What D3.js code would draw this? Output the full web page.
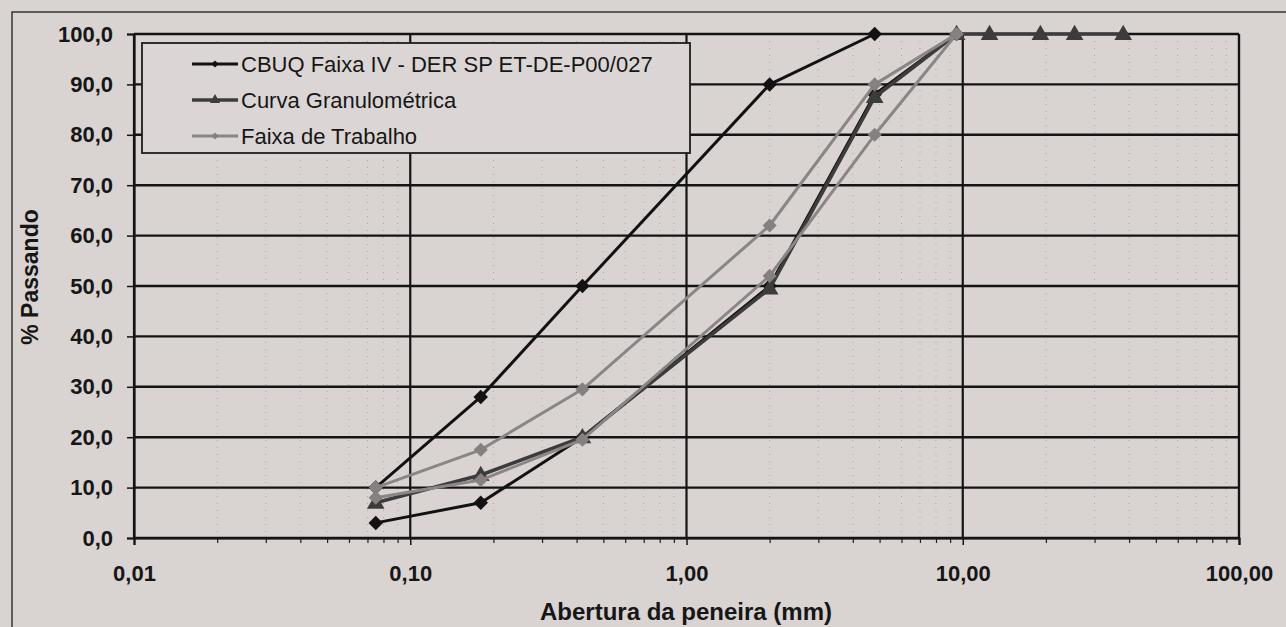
<!DOCTYPE html>
<html>
<head>
<meta charset="utf-8">
<script src="https://cdn.jsdelivr.net/npm/d3@7"></script>
<style>
  html, body { margin: 0; padding: 0; background: #d9d3d2; }
  svg { display: block; }
  text { font-family: "Liberation Sans", Arial, sans-serif; fill: #161616; }
</style>
</head>
<body>
<svg id="chart" width="1286" height="627"></svg>
<script>
// Sieve openings (mm) used in the granulometric analysis
const sieves = [0.075, 0.18, 0.42, 2.0, 4.8, 9.5, 12.5, 19.1, 25.4, 38.1];

// CBUQ Faixa IV - DER SP ET-DE-P00/027 (upper and lower limits, % passing)
const cbuqUpper = [10, 28, 50, 90, 100];
const cbuqLower = [3, 7, 20, 50, 88, 100];

// Curva Granulométrica (% passing)
const curva = [7, 12.5, 20, 49.5, 87.5, 100, 100, 100, 100, 100];

// Faixa de Trabalho (upper and lower limits, % passing)
const trabalhoUpper = [10, 17.5, 29.5, 62, 90, 100];
const trabalhoLower = [8, 11.5, 19.5, 52, 80, 100];

// Axis ticks
const xTicks = [0.01, 0.1, 1, 10, 100];
const yTicks = [0, 10, 20, 30, 40, 50, 60, 70, 80, 90, 100];

const legendLabels = ["CBUQ Faixa IV - DER SP ET-DE-P00/027", "Curva Granulométrica", "Faixa de Trabalho"];

const ptBR = d3.formatLocale({ decimal: ",", thousands: ".", grouping: [3], currency: ["R$", ""] });
const fmtY = ptBR.format(".1f");
const fmtX = ptBR.format(".2f");

const svg = d3.select("#chart");
const plot = { left: 134, right: 1239, top: 34, bottom: 538 };

const x = d3.scaleLog().domain([0.01, 100]).range([plot.left, plot.right]);
const y = d3.scaleLinear().domain([0, 100]).range([plot.bottom, plot.top]);

const pts = (vals) => vals.map((v, i) => [sieves[i], v]);

// page frame
svg.append("rect").attr("x", 12).attr("y", 12).attr("width", 1400).attr("height", 800)
  .attr("fill", "none").attr("stroke", "#2a2a2a").attr("stroke-width", 1.4);

// minor vertical grid (dotted)
const minorX = [];
for (let e = -2; e < 2; e++) for (let k = 2; k <= 9; k++) minorX.push(k * Math.pow(10, e));
svg.append("g").selectAll("line").data(minorX).join("line")
  .attr("x1", d => x(d)).attr("x2", d => x(d))
  .attr("y1", plot.top).attr("y2", plot.bottom)
  .attr("stroke", "#aea7a7").attr("stroke-width", 1).attr("stroke-dasharray", "1,6");

// major horizontal grid
svg.append("g").selectAll("line").data(yTicks).join("line")
  .attr("x1", plot.left).attr("x2", plot.right)
  .attr("y1", d => y(d)).attr("y2", d => y(d))
  .attr("stroke", "#141414").attr("stroke-width", 2.4);

// major vertical grid
svg.append("g").selectAll("line").data(xTicks).join("line")
  .attr("x1", d => x(d)).attr("x2", d => x(d))
  .attr("y1", plot.top).attr("y2", plot.bottom)
  .attr("stroke", "#141414").attr("stroke-width", 2.2);

// x axis: minor ticks
svg.append("g").attr("transform", `translate(0,${plot.bottom})`)
  .call(d3.axisBottom(x).tickValues(minorX).tickSize(5).tickFormat(""))
  .call(g => g.select(".domain").remove())
  .selectAll("line").attr("stroke", "#222").attr("stroke-width", 1.2);

// x axis: major ticks and labels
const xAxis = svg.append("g").attr("transform", `translate(0,${plot.bottom})`)
  .call(d3.axisBottom(x).tickValues(xTicks).tickSize(7).tickPadding(20).tickFormat(fmtX));
xAxis.select(".domain").attr("stroke", "#141414").attr("stroke-width", 2.2);
xAxis.selectAll(".tick line").attr("stroke", "#141414").attr("stroke-width", 1.5);
xAxis.selectAll("text").attr("font-size", 22).attr("font-weight", "bold")
  .attr("font-family", "Liberation Sans, Arial, sans-serif").attr("fill", "#161616");

// y axis
const yAxis = svg.append("g").attr("transform", `translate(${plot.left},0)`)
  .call(d3.axisLeft(y).tickValues(yTicks).tickSize(7).tickPadding(14).tickFormat(fmtY));
yAxis.select(".domain").attr("stroke", "#141414").attr("stroke-width", 2.2);
yAxis.selectAll(".tick line").attr("stroke", "#141414").attr("stroke-width", 1.5);
yAxis.selectAll("text").attr("font-size", 22).attr("font-weight", "bold")
  .attr("font-family", "Liberation Sans, Arial, sans-serif").attr("fill", "#161616");

// right border of plot
svg.append("line").attr("x1", plot.right).attr("x2", plot.right)
  .attr("y1", plot.top).attr("y2", plot.bottom)
  .attr("stroke", "#141414").attr("stroke-width", 2.2);

// axis titles
svg.append("text").attr("x", 686).attr("y", 620).attr("text-anchor", "middle")
  .attr("font-size", 24).attr("font-weight", "bold").text("Abertura da peneira (mm)");
svg.append("text").attr("transform", "translate(38,277) rotate(-90)").attr("text-anchor", "middle")
  .attr("font-size", 23).attr("font-weight", "bold").text("% Passando");

// series styles
const styles = [
  { color: "#121212", width: 3, symbol: "diamond", size: 105, fill: "#121212" },
  { color: "#3c3c3c", width: 3.6, symbol: "triangle", size: 135, fill: "#3c3c3c" },
  { color: "#8a8686", width: 3, symbol: "diamond", size: 100, fill: "#858181" }
];

const line = d3.line().x(d => x(d[0])).y(d => y(d[1]));

function marker(sel, st) {
  if (st.symbol === "diamond") {
    sel.attr("d", d3.symbol(d3.symbolSquare, st.size)())
      .attr("transform", d => `translate(${x(d[0])},${y(d[1])}) rotate(45)`);
  } else {
    sel.attr("d", d3.symbol(d3.symbolTriangle, st.size)())
      .attr("transform", d => `translate(${x(d[0])},${y(d[1]) + 1})`);
  }
  sel.attr("fill", st.fill);
}

function drawSeries(values, st) {
  const data = pts(values);
  const g = svg.append("g");
  g.append("path").datum(data).attr("d", line)
    .attr("fill", "none").attr("stroke", st.color).attr("stroke-width", st.width)
    .attr("stroke-linejoin", "round");
  g.selectAll("path.m").data(data).join("path").attr("class", "m").call(marker, st);
}

drawSeries(cbuqUpper, styles[0]);
drawSeries(cbuqLower, styles[0]);
drawSeries(curva, styles[1]);
drawSeries(trabalhoUpper, styles[2]);
drawSeries(trabalhoLower, styles[2]);

// legend
const lg = svg.append("g");
lg.append("rect").attr("x", 142).attr("y", 43).attr("width", 548).attr("height", 110)
  .attr("fill", "#dbd6d5").attr("stroke", "#1e1e1e").attr("stroke-width", 1.8);
legendLabels.forEach((label, i) => {
  const st = styles[i];
  const cy = 64 + i * 36;
  lg.append("line").attr("x1", 192).attr("x2", 238).attr("y1", cy).attr("y2", cy)
    .attr("stroke", st.color).attr("stroke-width", st.width);
  const path = lg.append("path").attr("fill", st.fill);
  if (st.symbol === "diamond") {
    path.attr("d", d3.symbol(d3.symbolSquare, 26)()).attr("transform", `translate(215,${cy}) rotate(45)`);
  } else {
    path.attr("d", d3.symbol(d3.symbolTriangle, 45)()).attr("transform", `translate(215,${cy})`);
  }
  lg.append("text").attr("x", 241).attr("y", cy + 8).attr("font-size", 22).text(label);
});
</script>
</body>
</html>
